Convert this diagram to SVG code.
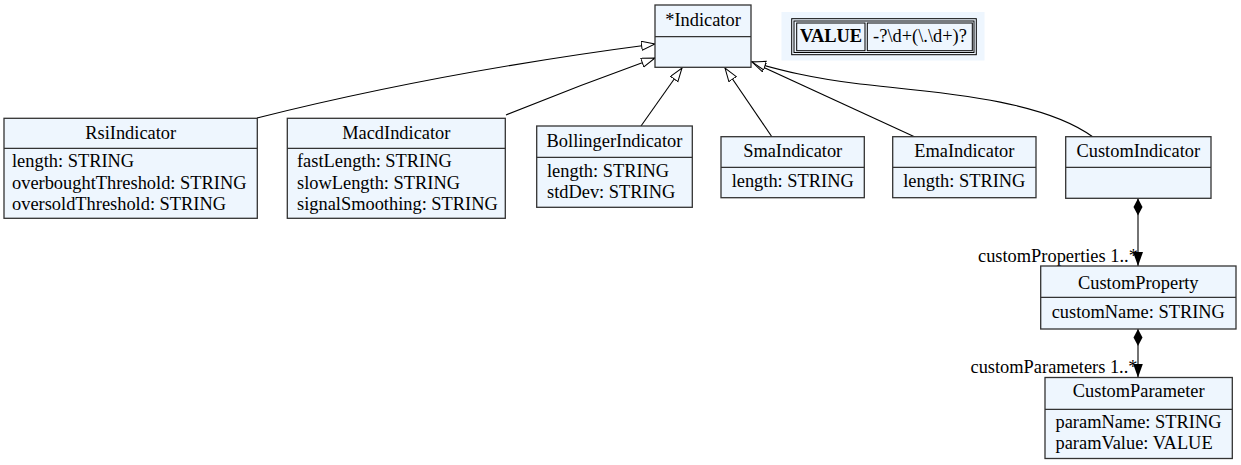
<svg xmlns="http://www.w3.org/2000/svg" width="1241" height="465" viewBox="0 0 1241 465">
<style>
.box{fill:#eef6fe;stroke:#333;stroke-width:1.3}
.div{stroke:#333;stroke-width:1.3}
text{font-family:"Liberation Serif","Times New Roman",serif;font-size:18.4px;fill:#000}
.t{text-anchor:middle}
.e{fill:none;stroke:#000;stroke-width:1.1}
.b{font-weight:bold}
</style>
<defs>
<marker id="gen" markerUnits="userSpaceOnUse" markerWidth="16" markerHeight="12" refX="14" refY="5" orient="auto">
<path d="M0.5,0.5 L14,5 L0.5,9.5 z" fill="#fff" stroke="#000" stroke-width="1"/>
</marker>
<marker id="dia" markerUnits="userSpaceOnUse" markerWidth="18" markerHeight="12" refX="0" refY="5" orient="auto">
<path d="M0,5 L8.5,0.5 L17,5 L8.5,9.5 z" fill="#000"/>
</marker>
<marker id="arr" markerUnits="userSpaceOnUse" markerWidth="16" markerHeight="12" refX="14" refY="5" orient="auto">
<path d="M0,0 L14,5 L0,10 z" fill="#000"/>
</marker>
</defs>

<g id="connectors">
<path class="e" d="M257,118 Q440,72 655,44" marker-end="url(#gen)"/>
<path class="e" d="M506,115 Q580,85 655,58" marker-end="url(#gen)"/>
<path class="e" d="M641,126 L682,68" marker-end="url(#gen)"/>
<path class="e" d="M772,137 L725,68" marker-end="url(#gen)"/>
<path class="e" d="M915,137 L752,62" marker-end="url(#gen)"/>
<path class="e" d="M1093,137 C1040,98 930,92 860,84 C810,78 780,70 752,62" marker-end="url(#gen)"/>
<path class="e" d="M1138,198.5 L1138,266" marker-start="url(#dia)" marker-end="url(#arr)"/>
<path class="e" d="M1138,329 L1138,377.5" marker-start="url(#dia)" marker-end="url(#arr)"/>
<text x="978" y="262">customProperties 1..*</text>
<text x="970.5" y="373">customParameters 1..*</text>
</g>

<g id="legend">
<rect x="781.5" y="12" width="203" height="48.5" fill="#eef6fe"/>
<rect x="791.7" y="18.7" width="184.6" height="36" fill="none" stroke="#000" stroke-width="1"/>
<rect x="794" y="21" width="180" height="31.5" fill="none" stroke="#000" stroke-width="1"/>
<rect x="796.7" y="23" width="68.3" height="27.7" fill="none" stroke="#000" stroke-width="1"/>
<rect x="867.3" y="23" width="105" height="27.7" fill="none" stroke="#000" stroke-width="1"/>
<text class="t b" x="831" y="41.5">VALUE</text>
<text class="t" x="920" y="41.5">-?\d+(\.\d+)?</text>
</g>

<g id="Indicator">
<rect class="box" x="655" y="5" width="96" height="62.3"/>
<line class="div" x1="655" y1="36.7" x2="751" y2="36.7"/>
<text class="t" x="703" y="26">*Indicator</text>
</g>

<g id="RsiIndicator">
<rect class="box" x="4" y="118.3" width="253.3" height="100"/>
<line class="div" x1="4" y1="148.3" x2="257.3" y2="148.3"/>
<text class="t" x="130.7" y="139.3">RsiIndicator</text>
<text x="12" y="167">length: STRING</text>
<text x="12" y="188.5">overboughtThreshold: STRING</text>
<text x="12" y="210">oversoldThreshold: STRING</text>
</g>

<g id="MacdIndicator">
<rect class="box" x="287.3" y="118.3" width="218" height="100"/>
<line class="div" x1="287.3" y1="148.3" x2="505.3" y2="148.3"/>
<text class="t" x="396.3" y="139.3">MacdIndicator</text>
<text x="297" y="167">fastLength: STRING</text>
<text x="297" y="188.5">slowLength: STRING</text>
<text x="297" y="210">signalSmoothing: STRING</text>
</g>

<g id="BollingerIndicator">
<rect class="box" x="536.7" y="126" width="155.6" height="81.3"/>
<line class="div" x1="536.7" y1="157.3" x2="692.3" y2="157.3"/>
<text class="t" x="614.5" y="147">BollingerIndicator</text>
<text x="547" y="176.5">length: STRING</text>
<text x="547" y="197.5">stdDev: STRING</text>
</g>

<g id="SmaIndicator">
<rect class="box" x="721" y="136.7" width="143.3" height="61"/>
<line class="div" x1="721" y1="167.3" x2="864.3" y2="167.3"/>
<text class="t" x="792.7" y="157.3">SmaIndicator</text>
<text class="t" x="792.7" y="187">length: STRING</text>
</g>

<g id="EmaIndicator">
<rect class="box" x="892.7" y="136.7" width="143.3" height="61"/>
<line class="div" x1="892.7" y1="167.3" x2="1036" y2="167.3"/>
<text class="t" x="964.3" y="157.3">EmaIndicator</text>
<text class="t" x="964.3" y="187">length: STRING</text>
</g>

<g id="CustomIndicator">
<rect class="box" x="1065.7" y="136.7" width="145.3" height="61.6"/>
<line class="div" x1="1065.7" y1="167.3" x2="1211" y2="167.3"/>
<text class="t" x="1138.3" y="157.3">CustomIndicator</text>
</g>

<g id="CustomProperty">
<rect class="box" x="1040.7" y="266" width="195.3" height="63"/>
<line class="div" x1="1040.7" y1="297.3" x2="1236" y2="297.3"/>
<text class="t" x="1138.3" y="289">CustomProperty</text>
<text class="t" x="1138.3" y="318.3">customName: STRING</text>
</g>

<g id="CustomParameter">
<rect class="box" x="1045" y="377.5" width="187.3" height="81"/>
<line class="div" x1="1045" y1="409.3" x2="1232.3" y2="409.3"/>
<text class="t" x="1138.7" y="397">CustomParameter</text>
<text x="1055.5" y="427.5">paramName: STRING</text>
<text x="1055.5" y="448.5">paramValue: VALUE</text>
</g>
</svg>
